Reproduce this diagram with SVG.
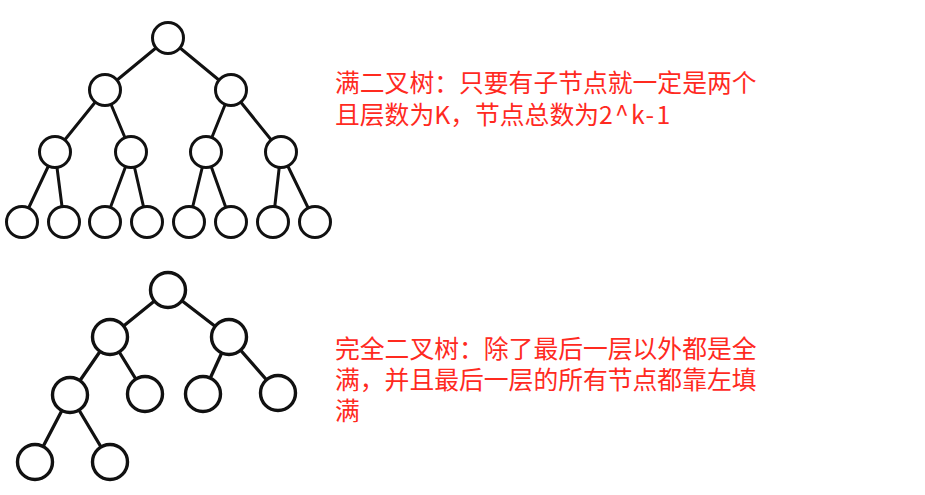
<svg xmlns="http://www.w3.org/2000/svg" width="925" height="495" viewBox="0 0 925 495">
<style>
.e1 line{stroke:#111;stroke-width:3;stroke-linecap:round}
.e2 line{stroke:#111;stroke-width:3.3;stroke-linecap:round}
.n1{fill:#fff;stroke:#111;stroke-width:3}
.n2{fill:#fff;stroke:#111;stroke-width:3.4}
.t{font-family:"Noto Sans CJK SC","Microsoft YaHei",sans-serif;font-size:24.8px;fill:#ff2a1f}
</style>
<rect width="925" height="495" fill="#fff"/>
<g id="connectors-full" class="e1">
<line x1="168" y1="38" x2="105" y2="90"/>
<line x1="168" y1="38" x2="231" y2="90"/>
<line x1="105" y1="90" x2="55" y2="152"/>
<line x1="105" y1="90" x2="131" y2="152"/>
<line x1="231" y1="90" x2="206" y2="152"/>
<line x1="231" y1="90" x2="281" y2="152"/>
<line x1="55" y1="152" x2="22" y2="222"/>
<line x1="55" y1="152" x2="64" y2="222"/>
<line x1="131" y1="152" x2="105" y2="222"/>
<line x1="131" y1="152" x2="147" y2="222"/>
<line x1="206" y1="152" x2="189" y2="222"/>
<line x1="206" y1="152" x2="231" y2="222"/>
<line x1="281" y1="152" x2="273" y2="222"/>
<line x1="281" y1="152" x2="315" y2="222"/>
</g>
<g id="full-n1"><circle class="n1" cx="168" cy="38" r="15.5"/></g>
<g id="full-n2"><circle class="n1" cx="105" cy="90" r="15.5"/></g>
<g id="full-n3"><circle class="n1" cx="231" cy="90" r="15.5"/></g>
<g id="full-n4"><circle class="n1" cx="55" cy="152" r="15.5"/></g>
<g id="full-n5"><circle class="n1" cx="131" cy="152" r="15.5"/></g>
<g id="full-n6"><circle class="n1" cx="206" cy="152" r="15.5"/></g>
<g id="full-n7"><circle class="n1" cx="281" cy="152" r="15.5"/></g>
<g id="full-n8"><circle class="n1" cx="22" cy="222" r="15.5"/></g>
<g id="full-n9"><circle class="n1" cx="64" cy="222" r="15.5"/></g>
<g id="full-n10"><circle class="n1" cx="105" cy="222" r="15.5"/></g>
<g id="full-n11"><circle class="n1" cx="147" cy="222" r="15.5"/></g>
<g id="full-n12"><circle class="n1" cx="189" cy="222" r="15.5"/></g>
<g id="full-n13"><circle class="n1" cx="231" cy="222" r="15.5"/></g>
<g id="full-n14"><circle class="n1" cx="273" cy="222" r="15.5"/></g>
<g id="full-n15"><circle class="n1" cx="315" cy="222" r="15.5"/></g>

<g id="connectors-complete" class="e2">
<line x1="168" y1="290" x2="110" y2="337"/>
<line x1="168" y1="290" x2="229" y2="337"/>
<line x1="110" y1="337" x2="70" y2="395"/>
<line x1="110" y1="337" x2="145" y2="394"/>
<line x1="229" y1="337" x2="203" y2="394"/>
<line x1="229" y1="337" x2="278" y2="393"/>
<line x1="70" y1="395" x2="35" y2="462"/>
<line x1="70" y1="395" x2="110" y2="462"/>
</g>
<g id="comp-n1"><circle class="n2" cx="168" cy="290" r="17.5"/></g>
<g id="comp-n2"><circle class="n2" cx="110" cy="337" r="17.5"/></g>
<g id="comp-n3"><circle class="n2" cx="229" cy="337" r="17.5"/></g>
<g id="comp-n4"><circle class="n2" cx="70" cy="395" r="17.5"/></g>
<g id="comp-n5"><circle class="n2" cx="145" cy="394" r="17.5"/></g>
<g id="comp-n6"><circle class="n2" cx="203" cy="394" r="17.5"/></g>
<g id="comp-n7"><circle class="n2" cx="278" cy="393" r="17.5"/></g>
<g id="comp-n8"><circle class="n2" cx="35" cy="462" r="17.5"/></g>
<g id="comp-n9"><circle class="n2" cx="110" cy="462" r="17.5"/></g>

<g id="label-full">
<text class="t"><tspan x="335" y="92">满二叉树：只要有子节点就一定是两个</tspan><tspan x="335" y="124">且层数为K，节点总数为</tspan><tspan letter-spacing="2.2">2^k-1</tspan></text>
</g>
<g id="label-complete">
<text class="t"><tspan x="335" y="358">完全二叉树：除了最后一层以外都是全</tspan><tspan x="335" y="389">满，并且最后一层的所有节点都靠左填</tspan><tspan x="335" y="420">满</tspan></text>
</g>
</svg>
